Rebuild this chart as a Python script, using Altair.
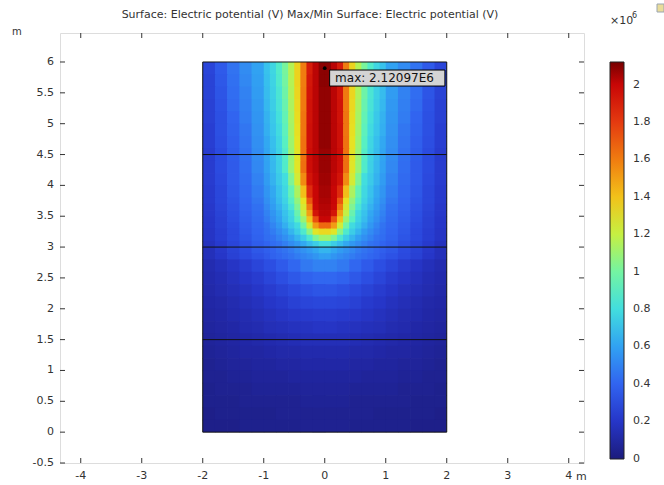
import altair as alt
import pandas as pd

# ---- data (electric potential, units of 1e5 V) ----
# upper part of the domain: finer columns near the axis, finer rows near the tip
upper_x_edges = [-2.0, -1.8, -1.6, -1.4, -1.2, -1.0, -0.9, -0.8, -0.7, -0.6, -0.5, -0.4, -0.3,
                 -0.2, -0.1, 0.0, 0.1, 0.2, 0.3, 0.4, 0.5, 0.6, 0.7, 0.8, 0.9, 1.0,
                 1.2, 1.4, 1.6, 1.8, 2.0]
upper_y_edges = [6.0, 5.8, 5.6, 5.4, 5.2, 5.0, 4.8, 4.6, 4.4, 4.2, 4.0, 3.8, 3.7, 3.6, 3.5,
                 3.4, 3.3, 3.2, 3.1, 3.0, 2.9, 2.8]
upper_potential_e5 = [
    [2.7, 3.6, 4.5, 5.3, 6.0, 7.0, 7.7, 8.7, 10.1, 11.6, 13.5, 16.0, 19.1, 20.2, 20.9, 20.9, 20.2, 19.1, 16.0, 13.5, 11.6, 10.1, 8.7, 7.7, 7.0, 6.0, 5.3, 4.5, 3.6, 2.7],
    [2.6, 3.5, 4.4, 5.2, 5.9, 6.9, 7.6, 8.6, 10.0, 11.6, 13.5, 16.0, 19.3, 20.2, 20.9, 20.9, 20.2, 19.3, 16.0, 13.5, 11.6, 10.0, 8.6, 7.6, 6.9, 5.9, 5.2, 4.4, 3.5, 2.6],
    [2.6, 3.4, 4.3, 5.0, 5.8, 6.8, 7.5, 8.4, 9.8, 11.5, 13.4, 16.1, 19.4, 20.2, 20.8, 20.8, 20.2, 19.4, 16.1, 13.4, 11.5, 9.8, 8.4, 7.5, 6.8, 5.8, 5.0, 4.3, 3.4, 2.6],
    [2.5, 3.3, 4.2, 4.9, 5.7, 6.7, 7.4, 8.3, 9.6, 11.4, 13.3, 16.1, 19.5, 20.2, 20.8, 20.8, 20.2, 19.5, 16.1, 13.3, 11.4, 9.6, 8.3, 7.4, 6.7, 5.7, 4.9, 4.2, 3.3, 2.5],
    [2.5, 3.2, 4.0, 4.8, 5.6, 6.5, 7.2, 8.1, 9.4, 11.3, 13.2, 16.2, 19.5, 20.2, 20.8, 20.8, 20.2, 19.5, 16.2, 13.2, 11.3, 9.4, 8.1, 7.2, 6.5, 5.6, 4.8, 4.0, 3.2, 2.5],
    [2.4, 3.2, 3.9, 4.6, 5.5, 6.4, 7.1, 7.9, 9.2, 11.2, 13.1, 16.2, 19.6, 20.2, 20.8, 20.8, 20.2, 19.6, 16.2, 13.1, 11.2, 9.2, 7.9, 7.1, 6.4, 5.5, 4.6, 3.9, 3.2, 2.4],
    [2.4, 3.1, 3.8, 4.5, 5.4, 6.2, 6.9, 7.7, 9.0, 11.1, 13.0, 16.3, 19.6, 20.2, 20.8, 20.8, 20.2, 19.6, 16.3, 13.0, 11.1, 9.0, 7.7, 6.9, 6.2, 5.4, 4.5, 3.8, 3.1, 2.4],
    [2.3, 3.0, 3.7, 4.4, 5.3, 6.1, 6.8, 7.6, 8.8, 11.0, 12.9, 16.3, 19.7, 20.2, 20.7, 20.7, 20.2, 19.7, 16.3, 12.9, 11.0, 8.8, 7.6, 6.8, 6.1, 5.3, 4.4, 3.7, 3.0, 2.3],
    [2.3, 3.0, 3.6, 4.3, 5.2, 6.0, 6.7, 7.5, 8.7, 11.0, 12.8, 16.4, 19.7, 20.2, 20.7, 20.7, 20.2, 19.7, 16.4, 12.8, 11.0, 8.7, 7.5, 6.7, 6.0, 5.2, 4.3, 3.6, 3.0, 2.3],
    [2.3, 2.9, 3.6, 4.2, 5.0, 5.8, 6.5, 7.3, 8.0, 10.3, 12.4, 15.6, 19.4, 20.1, 20.6, 20.6, 20.1, 19.4, 15.6, 12.4, 10.3, 8.0, 7.3, 6.5, 5.8, 5.0, 4.2, 3.6, 2.9, 2.3],
    [2.2, 2.8, 3.5, 4.1, 4.8, 5.6, 6.2, 7.0, 7.8, 9.4, 11.4, 14.1, 18.5, 20.0, 20.5, 20.5, 20.0, 18.5, 14.1, 11.4, 9.4, 7.8, 7.0, 6.2, 5.6, 4.8, 4.1, 3.5, 2.8, 2.2],
    [2.2, 2.8, 3.4, 4.0, 4.6, 5.4, 6.0, 6.8, 7.6, 8.9, 10.8, 13.0, 17.1, 20.0, 20.4, 20.4, 20.0, 17.1, 13.0, 10.8, 8.9, 7.6, 6.8, 6.0, 5.4, 4.6, 4.0, 3.4, 2.8, 2.2],
    [2.1, 2.7, 3.3, 3.9, 4.4, 5.2, 5.8, 6.5, 7.3, 8.4, 10.3, 12.5, 16.0, 19.9, 20.3, 20.3, 19.9, 16.0, 12.5, 10.3, 8.4, 7.3, 6.5, 5.8, 5.2, 4.4, 3.9, 3.3, 2.7, 2.1],
    [2.1, 2.6, 3.2, 3.8, 4.3, 5.0, 5.6, 6.2, 7.0, 7.8, 9.6, 11.9, 15.0, 19.4, 20.2, 20.2, 19.4, 15.0, 11.9, 9.6, 7.8, 7.0, 6.2, 5.6, 5.0, 4.3, 3.8, 3.2, 2.6, 2.1],
    [2.0, 2.5, 3.1, 3.7, 4.2, 4.8, 5.4, 6.0, 6.8, 7.6, 9.0, 11.0, 13.9, 17.3, 20.0, 20.0, 17.3, 13.9, 11.0, 9.0, 7.6, 6.8, 6.0, 5.4, 4.8, 4.2, 3.7, 3.1, 2.5, 2.0],
    [2.0, 2.5, 3.0, 3.6, 4.1, 4.5, 5.1, 5.7, 6.4, 7.2, 7.9, 9.9, 12.3, 15.1, 16.6, 16.6, 15.1, 12.3, 9.9, 7.9, 7.2, 6.4, 5.7, 5.1, 4.5, 4.1, 3.6, 3.0, 2.5, 2.0],
    [1.9, 2.4, 2.9, 3.5, 4.0, 4.4, 4.8, 5.3, 5.8, 6.6, 7.4, 8.6, 10.6, 12.8, 13.3, 13.3, 12.8, 10.6, 8.6, 7.4, 6.6, 5.8, 5.3, 4.8, 4.4, 4.0, 3.5, 2.9, 2.4, 1.9],
    [1.9, 2.4, 2.9, 3.4, 3.9, 4.3, 4.5, 5.0, 5.4, 5.9, 6.6, 7.4, 8.5, 10.2, 11.1, 11.1, 10.2, 8.5, 7.4, 6.6, 5.9, 5.4, 5.0, 4.5, 4.3, 3.9, 3.4, 2.9, 2.4, 1.9],
    [1.7, 2.2, 2.7, 3.2, 3.7, 4.0, 4.3, 4.5, 4.9, 5.3, 5.7, 6.2, 6.8, 7.4, 8.0, 8.0, 7.4, 6.8, 6.2, 5.7, 5.3, 4.9, 4.5, 4.3, 4.0, 3.7, 3.2, 2.7, 2.2, 1.7],
    [1.6, 2.1, 2.6, 3.0, 3.5, 3.8, 4.0, 4.3, 4.5, 4.8, 5.2, 5.5, 5.8, 6.2, 6.6, 6.6, 6.2, 5.8, 5.5, 5.2, 4.8, 4.5, 4.3, 4.0, 3.8, 3.5, 3.0, 2.6, 2.1, 1.6],
    [1.6, 2.0, 2.5, 2.9, 3.3, 3.6, 3.9, 4.1, 4.3, 4.5, 4.8, 5.1, 5.3, 5.6, 5.9, 5.9, 5.6, 5.3, 5.1, 4.8, 4.5, 4.3, 4.1, 3.9, 3.6, 3.3, 2.9, 2.5, 2.0, 1.6],
]
# lower part of the domain: uniform 0.2 m cells
lower_x_edges = [-2.0, -1.8, -1.6, -1.4, -1.2, -1.0, -0.8, -0.6, -0.4, -0.2, 0.0,
                 0.2, 0.4, 0.6, 0.8, 1.0, 1.2, 1.4, 1.6, 1.8, 2.0]
lower_y_edges = [2.8, 2.6, 2.4, 2.2, 2.0, 1.8, 1.6, 1.4, 1.2, 1.0, 0.8, 0.6, 0.4, 0.2, 0.0]
lower_potential_e5 = [
    [1.3, 1.6, 1.9, 2.3, 2.7, 3.1, 3.6, 4.1, 4.7, 5.0, 5.0, 4.7, 4.1, 3.6, 3.1, 2.7, 2.3, 1.9, 1.6, 1.3],
    [1.2, 1.4, 1.7, 2.0, 2.3, 2.7, 3.1, 3.5, 3.9, 4.1, 4.1, 3.9, 3.5, 3.1, 2.7, 2.3, 2.0, 1.7, 1.4, 1.2],
    [1.1, 1.3, 1.5, 1.7, 2.0, 2.3, 2.6, 2.9, 3.2, 3.4, 3.4, 3.2, 2.9, 2.6, 2.3, 2.0, 1.7, 1.5, 1.3, 1.1],
    [1.0, 1.1, 1.3, 1.5, 1.7, 2.0, 2.2, 2.5, 2.7, 2.8, 2.8, 2.7, 2.5, 2.2, 2.0, 1.7, 1.5, 1.3, 1.1, 1.0],
    [0.9, 1.0, 1.2, 1.3, 1.5, 1.7, 1.9, 2.1, 2.2, 2.3, 2.3, 2.2, 2.1, 1.9, 1.7, 1.5, 1.3, 1.2, 1.0, 0.9],
    [0.8, 0.9, 1.0, 1.2, 1.3, 1.5, 1.6, 1.7, 1.8, 1.9, 1.9, 1.8, 1.7, 1.6, 1.5, 1.3, 1.2, 1.0, 0.9, 0.8],
    [0.7, 0.8, 0.9, 1.0, 1.1, 1.2, 1.3, 1.4, 1.5, 1.5, 1.5, 1.5, 1.4, 1.3, 1.2, 1.1, 1.0, 0.9, 0.8, 0.7],
    [0.6, 0.7, 0.8, 0.9, 0.9, 1.0, 1.1, 1.1, 1.2, 1.2, 1.2, 1.2, 1.1, 1.1, 1.0, 0.9, 0.9, 0.8, 0.7, 0.6],
    [0.5, 0.6, 0.7, 0.7, 0.8, 0.8, 0.9, 0.9, 1.0, 1.0, 1.0, 1.0, 0.9, 0.9, 0.8, 0.8, 0.7, 0.7, 0.6, 0.5],
    [0.5, 0.5, 0.6, 0.6, 0.7, 0.7, 0.7, 0.8, 0.8, 0.8, 0.8, 0.8, 0.8, 0.7, 0.7, 0.7, 0.6, 0.6, 0.5, 0.5],
    [0.4, 0.5, 0.5, 0.5, 0.6, 0.6, 0.6, 0.6, 0.7, 0.7, 0.7, 0.7, 0.6, 0.6, 0.6, 0.6, 0.5, 0.5, 0.5, 0.4],
    [0.4, 0.4, 0.4, 0.5, 0.5, 0.5, 0.5, 0.5, 0.6, 0.6, 0.6, 0.6, 0.5, 0.5, 0.5, 0.5, 0.5, 0.4, 0.4, 0.4],
    [0.3, 0.4, 0.4, 0.4, 0.4, 0.4, 0.5, 0.5, 0.5, 0.5, 0.5, 0.5, 0.5, 0.5, 0.4, 0.4, 0.4, 0.4, 0.4, 0.3],
    [0.3, 0.3, 0.3, 0.4, 0.4, 0.4, 0.4, 0.4, 0.5, 0.5, 0.5, 0.5, 0.4, 0.4, 0.4, 0.4, 0.4, 0.3, 0.3, 0.3],
]
layer_boundaries = [4.5, 3.0, 1.5]
domain_box = {"x0": -2.0, "x1": 2.0, "y0": 0.0, "y1": 6.0}
max_value = 2.12097
max_point = {"x": 0.0, "y": 5.9}
max_label = "max: 2.12097E6"
x_ticks = [-4, -3, -2, -1, 0, 1, 2, 3, 4]
y_ticks = [-0.5, 0, 0.5, 1, 1.5, 2, 2.5, 3, 3.5, 4, 4.5, 5, 5.5, 6]
legend_ticks = [0, 0.2, 0.4, 0.6, 0.8, 1.0, 1.2, 1.4, 1.6, 1.8, 2.0]
title_text = "Surface: Electric potential (V)  Max/Min Surface: Electric potential (V)"

# colour table (COMSOL-like rainbow), value in 1e6 V
# (the first stop sits a hair below 0 so the "0" legend label is centred on the bar end)
stop_values = [-0.002, 0.1, 0.2, 0.3, 0.4, 0.5, 0.6, 0.7, 0.8, 0.9, 1.0, 1.1,
               1.2, 1.3, 1.4, 1.5, 1.6, 1.7, 1.8, 1.9, 2.0, max_value]
stop_colors = ["#1c1c7c", "#2127a6", "#2636c8", "#2b4be0", "#3164f0", "#3282f2",
               "#31a2f2", "#38c2ec", "#42dede", "#58f0c2", "#74f4a2", "#9af472",
               "#c6f042", "#e6e222", "#f2c21a", "#f29e14", "#f07c10", "#ec5a10",
               "#e43a10", "#d81e0a", "#c80606", "#760000"]

W, H = 524, 430
EPS = 0.012  # slight overlap between neighbouring cells to hide antialiasing seams
rows = []
for xe, ye, grid in ((upper_x_edges, upper_y_edges, upper_potential_e5),
                     (lower_x_edges, lower_y_edges, lower_potential_e5)):
    for j, row in enumerate(grid):
        for i, v in enumerate(row):
            xb = xe[i + 1] + (EPS if i + 1 < len(xe) - 1 else 0.0)
            ya = ye[j + 1] - (EPS if j + 1 < len(ye) - 1 or ye is upper_y_edges else 0.0)
            rows.append({"xa": xe[i], "xb": xb, "ya": ya, "yb": ye[j], "v": v / 10.0})
field = pd.DataFrame(rows)

xs = alt.Scale(domain=[-4.34, 4.25], nice=False, zero=False)
ys = alt.Scale(domain=[-0.5, 6.47], nice=False, zero=False)
cs = alt.Scale(domain=stop_values, range=stop_colors, interpolate="rgb")

FONT = "DejaVu Sans"
TXT = "#333333"


def X(field_name):
    return alt.X(field_name, scale=xs, axis=None)


def Y(field_name):
    return alt.Y(field_name, scale=ys, axis=None)


heat = alt.Chart(field).mark_rect(strokeWidth=0).encode(
    x=X("xa:Q"), x2="xb:Q", y=Y("ya:Q"), y2="yb:Q",
    color=alt.Color("v:Q", scale=cs, legend=alt.Legend(
        type="gradient", title=None, orient="none", legendX=550, legendY=29,
        direction="vertical", gradientLength=397, gradientThickness=14,
        values=legend_ticks, format=".1~f", labelFontSize=11, labelFont=FONT,
        labelColor=TXT, labelOffset=9, labelBaseline="middle",
        gradientStrokeColor="#222222", gradientStrokeWidth=1, padding=0,
        labelOverlap=False)),
)

box_df = pd.DataFrame([domain_box])
outline = alt.Chart(box_df).mark_rect(fill=None, stroke="#111111", strokeWidth=1).encode(
    x=X("x0:Q"), x2="x1:Q", y=Y("y0:Q"), y2="y1:Q")

lines = alt.Chart(pd.DataFrame({"y": layer_boundaries,
                                "x0": [domain_box["x0"]] * 3,
                                "x1": [domain_box["x1"]] * 3})).mark_rule(
    color="#111111", strokeWidth=1).encode(
    x=X("x0:Q"), x2="x1:Q", y=Y("y:Q"))

# axis ticks (inward, on all four sides) and tick labels, placed through the scales
xt = pd.DataFrame({"t": x_ticks, "label": [f"{v:g}" for v in x_ticks]})
yt = pd.DataFrame({"t": y_ticks, "label": [f"{v:g}" for v in y_ticks]})
tick_style = dict(color="#333333", strokeWidth=1)
ticks_bottom = alt.Chart(xt).mark_rule(**tick_style).encode(
    x=X("t:Q"), y=alt.value(H), y2=alt.value(H - 5))
ticks_top = alt.Chart(xt).mark_rule(**tick_style).encode(
    x=X("t:Q"), y=alt.value(0), y2=alt.value(5))
ticks_left = alt.Chart(yt).mark_rule(**tick_style).encode(
    y=Y("t:Q"), x=alt.value(0), x2=alt.value(5))
ticks_right = alt.Chart(yt).mark_rule(**tick_style).encode(
    y=Y("t:Q"), x=alt.value(W), x2=alt.value(W - 5))
xlabels = alt.Chart(xt).mark_text(
    align="center", baseline="top", font=FONT, fontSize=11, color=TXT).encode(
    x=X("t:Q"), y=alt.value(H + 7), text="label:N")
ylabels = alt.Chart(yt).mark_text(
    align="right", baseline="middle", font=FONT, fontSize=11, color=TXT).encode(
    y=Y("t:Q"), x=alt.value(-6), text="label:N")

mx = pd.DataFrame([max_point])
max_dot = alt.Chart(mx).mark_point(filled=True, color="#000000", size=14, opacity=1).encode(
    x=X("x:Q"), y=Y("y:Q"))

label_box = alt.Chart(pd.DataFrame([{"xa": 0.08, "xb": 1.97, "ya": 5.61, "yb": 5.87}])).mark_rect(
    fill="#d4d4d4", stroke="#000000", strokeWidth=1).encode(
    x=X("xa:Q"), x2="xb:Q", y=Y("ya:Q"), y2="yb:Q")
label_text = alt.Chart(pd.DataFrame([{"x": 0.17, "y": 5.74, "t": max_label}])).mark_text(
    align="left", baseline="middle", font=FONT, fontSize=12, color="#111111").encode(
    x=X("x:Q"), y=Y("y:Q"), text="t:N")


def note(text, px, py, size=11, align="left", baseline="middle", color=TXT):
    return alt.Chart(pd.DataFrame({"t": [text]})).mark_text(
        align=align, baseline=baseline, font=FONT, fontSize=size, color=color).encode(
        x=alt.value(px), y=alt.value(py), text="t:N")


title = note(title_text, 250, -18, size=11, align="center")
unit_y = note("m", -48, -1, size=10)
unit_x = note("m", W - 8, H + 14, size=11)
mult = note("\u00d710", 550, -12, size=11)
mult_exp = note("6", 572, -17, size=8)
icon = alt.Chart(pd.DataFrame({"a": [0]})).mark_rect(
    fill="#e9dc9a", stroke="#9aa4b0", strokeWidth=1).encode(
    x=alt.value(597), x2=alt.value(604), y=alt.value(-29), y2=alt.value(-21))

chart = alt.layer(
    heat, outline, lines, ticks_bottom, ticks_top, ticks_left, ticks_right,
    xlabels, ylabels, max_dot, label_box, label_text,
    title, unit_y, unit_x, mult, mult_exp, icon
).properties(
    width=W, height=H,
    autosize=alt.AutoSizeParams(type="none"),
    padding={"left": 60, "top": 33, "right": 80, "bottom": 22},
).configure_view(stroke="#333333", strokeWidth=1).configure(background="white")

chart.save("out.html", embed_options={"renderer": "svg", "actions": False})
